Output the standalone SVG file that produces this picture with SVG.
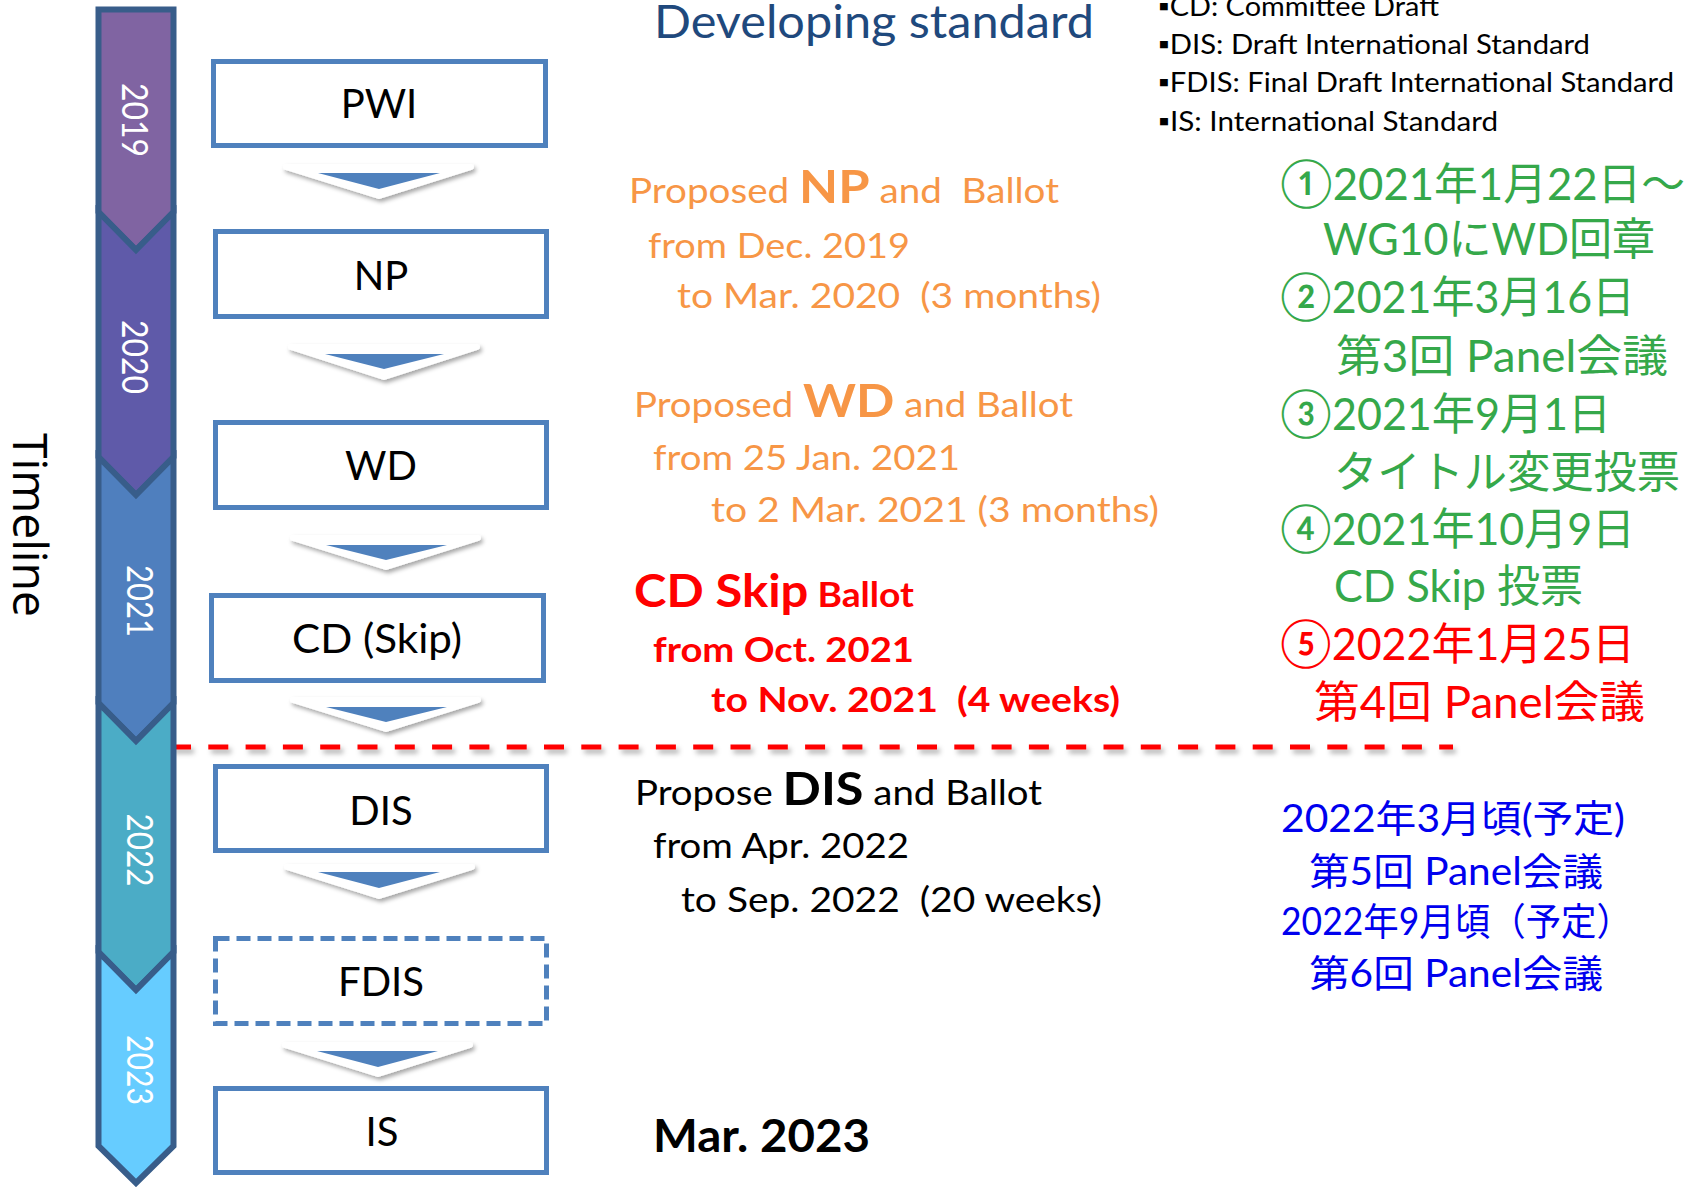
<svg xmlns="http://www.w3.org/2000/svg" width="1702" height="1187" viewBox="0 0 1702 1187">
<defs>
<filter id="sh" x="-20%" y="-50%" width="140%" height="250%">
<feDropShadow dx="2" dy="3" stdDeviation="2" flood-color="#000" flood-opacity="0.35"/>
</filter>
<filter id="shl" filterUnits="userSpaceOnUse" x="150" y="725" width="1340" height="50">
<feDropShadow dx="3" dy="4" stdDeviation="2.5" flood-color="#000" flood-opacity="0.3"/>
</filter>
<style>
.seg{stroke:#385d8a;stroke-width:6;stroke-linejoin:miter}
.yr{font-family:Lato,"Open Sans",sans-serif;font-size:36px;fill:#fff;text-anchor:middle}
.box{fill:#fff;stroke:#4f81bd;stroke-width:5}
.bt{font-family:Lato,"Noto Sans",sans-serif;font-size:40px;fill:#000;text-anchor:middle}
.aw{fill:#fff;stroke:#fff;stroke-width:6;stroke-linejoin:round}
.ab{fill:#4f81bd}
.t{font-family:Lato,"Noto Sans",sans-serif;font-size:35px}
.big{font-size:46px;font-weight:bold}
.b{font-weight:bold}
.or{fill:#f79646}
.rd{fill:#ff0000}
.bk{fill:#000}
.lg{font-family:Lato,"Noto Sans",sans-serif;font-size:27px;fill:#000}
.jp{font-family:Lato,"Noto Sans CJK JP",sans-serif;font-size:44px}
.jb{font-family:Lato,"Noto Sans CJK JP",sans-serif;font-size:38px;fill:#0000ee}
.gr{fill:#35a84a}
.cir{font-size:48px}
</style>
</defs>

<line x1="171" y1="747" x2="1453" y2="747" stroke="#ff0000" stroke-width="5" stroke-dasharray="20 17.3" filter="url(#shl)"/>

<g id="timeline">
<polygon class="seg" fill="#8064a2" points="98.5,9.5 173.5,9.5 173.5,212 136,250 98.5,212"/>
<polygon class="seg" fill="#5f5aa9" points="98.5,212 136,250 173.5,212 173.5,457 136,495 98.5,457"/>
<polygon class="seg" fill="#4f7fbe" points="98.5,457 136,495 173.5,457 173.5,703 136,741 98.5,703"/>
<polygon class="seg" fill="#4bacc6" points="98.5,703 136,741 173.5,703 173.5,952 136,990 98.5,952"/>
<polygon class="seg" fill="#66ccff" points="98.5,952 136,990 173.5,952 173.5,1146 136,1183 98.5,1146"/>
<text class="yr" transform="translate(122,120) rotate(90)" textLength="74" lengthAdjust="spacingAndGlyphs">2019</text>
<text class="yr" transform="translate(122,357) rotate(90)" textLength="74" lengthAdjust="spacingAndGlyphs">2020</text>
<text class="yr" transform="translate(127,601) rotate(90)" textLength="72" lengthAdjust="spacingAndGlyphs">2021</text>
<text class="yr" transform="translate(127,850) rotate(90)" textLength="73" lengthAdjust="spacingAndGlyphs">2022</text>
<text class="yr" transform="translate(127,1070) rotate(90)" textLength="70" lengthAdjust="spacingAndGlyphs">2023</text>
</g>

<text transform="translate(13,525) rotate(90)" font-family="'Open Sans','Noto Sans',sans-serif" font-size="47" fill="#000" text-anchor="middle" textLength="184" lengthAdjust="spacingAndGlyphs">Timeline</text>

<g id="connectors">
<g filter="url(#sh)"><polygon class="aw" points="286,167 471,167 379,196"/></g>
<polygon class="ab" points="318,173 440,173 379,189"/>
<g filter="url(#sh)"><polygon class="aw" points="291,347 477,347 384,377"/></g>
<polygon class="ab" points="325,354 444,354 384,369"/>
<g filter="url(#sh)"><polygon class="aw" points="293,538 478,538 386,567"/></g>
<polygon class="ab" points="326,545 447,545 386,560"/>
<g filter="url(#sh)"><polygon class="aw" points="293,700 478,700 386,729"/></g>
<polygon class="ab" points="326,707 447,707 386,722"/>
<g filter="url(#sh)"><polygon class="aw" points="287,867 472,867 379,896"/></g>
<polygon class="ab" points="318,872 440,872 379,888"/>
<g filter="url(#sh)"><polygon class="aw" points="285,1045 470,1045 378,1074"/></g>
<polygon class="ab" points="317,1051 438,1051 378,1067"/>
</g>

<g id="node-pwi"><rect class="box" x="213.5" y="61.5" width="332" height="84"/><text class="bt" x="379" y="118">PWI</text></g>
<g id="node-np"><rect class="box" x="215.5" y="231.5" width="331" height="85"/><text class="bt" x="381" y="290">NP</text></g>
<g id="node-wd"><rect class="box" x="215.5" y="422.5" width="331" height="85"/><text class="bt" x="381" y="480">WD</text></g>
<g id="node-cd"><rect class="box" x="211.5" y="595.5" width="332" height="85"/><text class="bt" x="377" y="653" textLength="170" lengthAdjust="spacingAndGlyphs">CD (Skip)</text></g>
<g id="node-dis"><rect class="box" x="215.5" y="766.5" width="331" height="84"/><text class="bt" x="381" y="825">DIS</text></g>
<g id="node-fdis"><rect class="box" x="215.5" y="938.5" width="331" height="85" stroke-dasharray="14 7"/><text class="bt" x="381" y="996">FDIS</text></g>
<g id="node-is"><rect class="box" x="215.5" y="1088.5" width="331" height="84"/><text class="bt" x="382" y="1146">IS</text></g>

<text x="654" y="38" font-family="Lato,'Noto Sans',sans-serif" font-size="46" fill="#1f497d" textLength="440" lengthAdjust="spacingAndGlyphs">Developing standard</text>

<g id="legend">
<text class="lg" x="1158" y="16" textLength="281" lengthAdjust="spacingAndGlyphs">▪CD: Committee Draft</text>
<text class="lg" x="1158" y="54" textLength="432" lengthAdjust="spacingAndGlyphs">▪DIS: Draft International Standard</text>
<text class="lg" x="1158" y="92" textLength="516" lengthAdjust="spacingAndGlyphs">▪FDIS: Final Draft International Standard</text>
<text class="lg" x="1158" y="131" textLength="340" lengthAdjust="spacingAndGlyphs">▪IS: International Standard</text>
</g>

<g id="np-ballot">
<text class="t or" x="629" y="203" xml:space="preserve" textLength="430" lengthAdjust="spacingAndGlyphs">Proposed <tspan class="big">NP</tspan> and  Ballot</text>
<text class="t or" x="648" y="258" textLength="262" lengthAdjust="spacingAndGlyphs">from Dec. 2019</text>
<text class="t or" x="677" y="308" xml:space="preserve" textLength="424" lengthAdjust="spacingAndGlyphs">to Mar. 2020  (3 months)</text>
</g>
<g id="wd-ballot">
<text class="t or" x="634" y="417" textLength="439" lengthAdjust="spacingAndGlyphs">Proposed <tspan class="big">WD</tspan> and Ballot</text>
<text class="t or" x="653" y="470" textLength="307" lengthAdjust="spacingAndGlyphs">from 25 Jan. 2021</text>
<text class="t or" x="711" y="522" textLength="448" lengthAdjust="spacingAndGlyphs">to 2 Mar. 2021 (3 months)</text>
</g>
<g id="cd-ballot">
<text class="t rd b" x="634" y="607" textLength="280" lengthAdjust="spacingAndGlyphs"><tspan class="big">CD Skip</tspan> Ballot</text>
<text class="t rd b" x="653" y="662" textLength="261" lengthAdjust="spacingAndGlyphs">from Oct. 2021</text>
<text class="t rd b" x="711" y="712" xml:space="preserve" textLength="409" lengthAdjust="spacingAndGlyphs">to Nov. 2021  (4 weeks)</text>
</g>
<g id="dis-ballot">
<text class="t bk" x="635" y="805" textLength="407" lengthAdjust="spacingAndGlyphs">Propose <tspan class="big">DIS</tspan> and Ballot</text>
<text class="t bk" x="653" y="858" textLength="256" lengthAdjust="spacingAndGlyphs">from Apr. 2022</text>
<text class="t bk" x="681" y="912" xml:space="preserve" textLength="421" lengthAdjust="spacingAndGlyphs">to Sep. 2022  (20 weeks)</text>
</g>
<text class="t bk" x="653" y="1152" textLength="217" lengthAdjust="spacingAndGlyphs"><tspan class="big">Mar. 2023</tspan></text>

<g id="events">
<text class="jp gr" x="1280" y="200" textLength="405" lengthAdjust="spacingAndGlyphs"><tspan class="cir">①</tspan>2021年1月22日～</text>
<text class="jp gr" x="1323" y="255" textLength="332" lengthAdjust="spacingAndGlyphs">WG10にWD回章</text>
<text class="jp gr" x="1280" y="313" textLength="355" lengthAdjust="spacingAndGlyphs"><tspan class="cir">②</tspan>2021年3月16日</text>
<text class="jp gr" x="1336" y="372" textLength="332" lengthAdjust="spacingAndGlyphs">第3回 Panel会議</text>
<text class="jp gr" x="1280" y="430" textLength="331" lengthAdjust="spacingAndGlyphs"><tspan class="cir">③</tspan>2021年9月1日</text>
<text class="jp gr" x="1334" y="488" textLength="346" lengthAdjust="spacingAndGlyphs">タイトル変更投票</text>
<text class="jp gr" x="1280" y="545" textLength="355" lengthAdjust="spacingAndGlyphs"><tspan class="cir">④</tspan>2021年10月9日</text>
<text class="jp gr" x="1334" y="602" textLength="249" lengthAdjust="spacingAndGlyphs">CD Skip 投票</text>
<text class="jp rd" x="1280" y="660" textLength="355" lengthAdjust="spacingAndGlyphs"><tspan class="cir">⑤</tspan>2022年1月25日</text>
<text class="jp rd" x="1314" y="718" textLength="331" lengthAdjust="spacingAndGlyphs">第4回 Panel会議</text>
</g>
<g id="plans">
<text class="jb" x="1281" y="832" textLength="344" lengthAdjust="spacingAndGlyphs">2022年3月頃(予定)</text>
<text class="jb" x="1309" y="885" textLength="294" lengthAdjust="spacingAndGlyphs">第5回 Panel会議</text>
<text class="jb" x="1281" y="935" textLength="351" lengthAdjust="spacingAndGlyphs">2022年9月頃（予定）</text>
<text class="jb" x="1309" y="987" textLength="294" lengthAdjust="spacingAndGlyphs">第6回 Panel会議</text>
</g>
</svg>
